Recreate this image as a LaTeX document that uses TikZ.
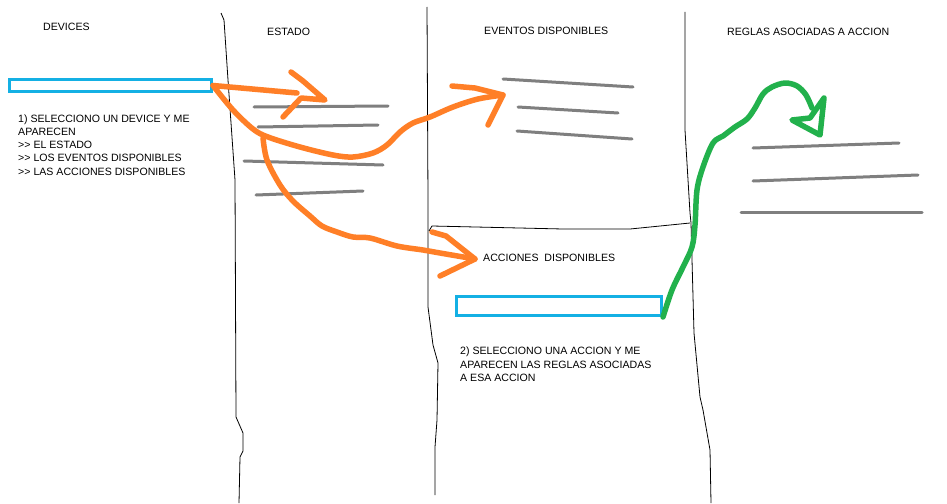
\documentclass[tikz,border=0pt]{standalone}
\usepackage{fontspec}
\setmainfont{Liberation Sans}
\newcommand{\gtgt}{\mbox{>}\mbox{>}}
\begin{document}
\begin{tikzpicture}[x=1pt,y=-1pt,
  pen/.style={draw=black,line width=0.8pt,line join=round},
  selbox/.style={draw=selcyan,line width=3pt,inner sep=0pt,fill=none},
  listline/.style={draw=listgray,line width=3pt,line cap=round},
  orangeline/.style={draw=arrorange,line width=5.5pt,line cap=round,line join=round},
  greenline/.style={draw=arrgreen,line width=5.5pt,line cap=round,line join=round},
  title/.style={anchor=base west,inner sep=0pt,font=\fontsize{10.6}{13}\selectfont},
  note/.style={anchor=north west,inner sep=0pt,align=left,font=\fontsize{10.6}{13.2}\selectfont}
]
\definecolor{selcyan}{RGB}{20,176,228}
\definecolor{listgray}{RGB}{127,127,127}
\definecolor{arrorange}{RGB}{255,127,39}
\definecolor{arrgreen}{RGB}{34,177,76}
\useasboundingbox (0,0) rectangle (947,503);
\fill[white] (0,0) rectangle (947,503);

% column separators
\draw[pen] (221,13) -- (224,20) -- (228,80) -- (235,180) -- (236,417) -- (243,433) -- (243,451) -- (240,457) -- (239,503);
\draw[pen] (427,7) -- (428,200) -- (428,307) -- (433,345) -- (438,363) -- (437,420) -- (435,447) -- (435,495);
\draw[pen] (685,12) -- (685,130) -- (690,213) -- (691,223) -- (694,333) -- (700,397) -- (703,410) -- (710,450) -- (711,503);
\draw[pen] (429,231) -- (432,226) -- (563,229) -- (630,229) -- (690,223);

% titles
\node[title] (tdev) at (43,31) {DEVICES};
\node[title] (test) at (267,36) {ESTADO};
\node[title] (tev) at (484,35) {EVENTOS DISPONIBLES};
\node[title] (treg) at (727,36) {REGLAS ASOCIADAS A ACCION};
\node[title] (tacc) at (483,261) {ACCIONES\ \ DISPONIBLES};

% notes
\node[note] (note1) at (18,114.5) {1) SELECCIONO UN DEVICE Y ME\\APARECEN\\\gtgt{} EL ESTADO\\\gtgt{} LOS EVENTOS DISPONIBLES\\\gtgt{} LAS ACCIONES DISPONIBLES};
\node[note] (note2) at (460,347) {2) SELECCIONO UNA ACCION Y ME\\APARECEN LAS REGLAS ASOCIADAS\\A ESA ACCION};

% selection boxes
\node[selbox,minimum width=202pt,minimum height=12pt] (box1) at (110.5,85.5) {};
\node[selbox,minimum width=205pt,minimum height=19pt] (box2) at (559,306) {};

% list lines
\draw[listline] (254,107) -- (388,106);
\draw[listline] (258,127) -- (378,125);
\draw[listline] (244,161) -- (383,165);
\draw[listline] (256,195) -- (363,191);
\draw[listline] (503,79) -- (633,87);
\draw[listline] (518,107) -- (618,113);
\draw[listline] (517,131) -- (632,139);
\draw[listline] (753,148) -- (899,143);
\draw[listline] (753,181) -- (918,175);
\draw[listline] (741,212) -- (922,212);

% coordinates
\coordinate (tipA) at (325,100);
\coordinate (tipB) at (503,95);
\coordinate (cstart) at (263,138);
\coordinate (tipC) at (475,259);
\coordinate (tipG) at (820,135);

% orange arrow A
\draw[orangeline] (box1.east) -- (297,93);
\draw[orangeline] (291,72) -- (303,81) -- (tipA) -- (301,98) -- (283,117);

% orange arrow B
\draw[orangeline] plot[smooth,tension=0.55] coordinates {(box1.east) (233,110) (253,129) (268,137) (300,147) (333,155) (353,157) (373,153) (387,145) (400,132) (413,123) (430,117) (453,107) (478,99) (tipB)};
\draw[orangeline] (452,86) -- (475,88) -- (tipB) -- (488,125);

% orange arrow C
\draw[orangeline] plot[smooth,tension=0.55] coordinates {(cstart) (267,160) (280,185) (293,201) (310,216) (322,226) (337,232) (353,237) (370,238) (397,246) (423,250) (440,253) (tipC)};
\draw[orangeline] (432,232) -- (446,236) -- (tipC) -- (440,276);

% green arrow
\draw[greenline] plot[smooth,tension=0.55] coordinates {(box2.south east) (672,290) (683,267) (692,247) (695,225) (697,190) (703,167) (713,143) (723,136) (735,127) (747,119) (755,108) (763,94) (772,87) (785,83) (797,86) (806,95) (812,108)};
\draw[greenline] (824,98) -- (tipG) -- (792,120) -- (810,118) -- (824,98);
\end{tikzpicture}
\end{document}
